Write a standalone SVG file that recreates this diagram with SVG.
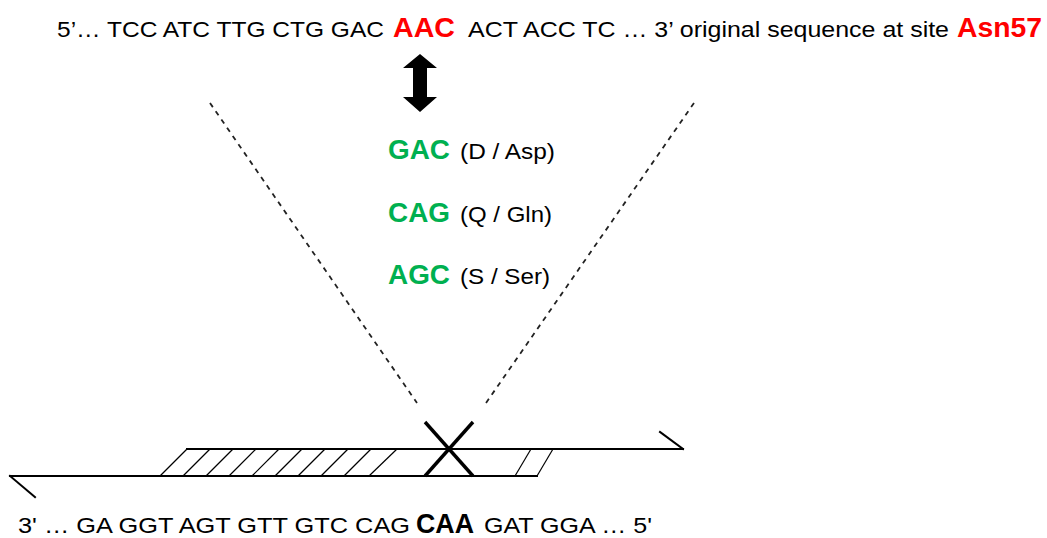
<svg xmlns="http://www.w3.org/2000/svg" width="1047" height="538" viewBox="0 0 1047 538">
  <style>
    .t{font-family:"Liberation Sans",Arial,sans-serif;font-size:22px;fill:#000}
    .b{font-family:"Liberation Sans",Arial,sans-serif;font-size:28px;font-weight:bold}
    .red{fill:#ff0000}
    .grn{fill:#00b050}
    .blk{fill:#000}
    .strand{stroke:#000;stroke-width:2;fill:none;stroke-linecap:square}
    .hatch{stroke:#000;stroke-width:1.2}
    .cross{stroke:#000;stroke-width:3.4}
    .dash{stroke:#222;stroke-width:1.8;stroke-dasharray:5 5;fill:none}
  </style>
  <rect width="1047" height="538" fill="#fff"/>

  <!-- coding strand with the codon to be replaced -->
  <g id="top-sequence">
    <text class="t" x="57" y="37" textLength="327" lengthAdjust="spacingAndGlyphs">5’… TCC ATC TTG CTG GAC</text>
    <text class="b red" x="393" y="37" textLength="62" lengthAdjust="spacingAndGlyphs">AAC</text>
    <text class="t" x="468" y="37" textLength="481" lengthAdjust="spacingAndGlyphs">ACT ACC TC … 3’ original sequence at site</text>
    <text class="b red" x="957" y="37" textLength="85" lengthAdjust="spacingAndGlyphs">Asn57</text>
  </g>

  <!-- exchange arrow -->
  <g id="exchange-arrow">
    <path d="M420,54 L437,68 L427,68 L427,97 L437,97 L420,112 L403,97 L413,97 L413,68 L403,68 Z" fill="#000"/>
  </g>

  <!-- replacement codons -->
  <g id="codon-gac">
    <text class="b grn" x="388" y="159" textLength="62" lengthAdjust="spacingAndGlyphs">GAC</text>
    <text class="t" x="460" y="159" textLength="95" lengthAdjust="spacingAndGlyphs">(D / Asp)</text>
  </g>
  <g id="codon-cag">
    <text class="b grn" x="388" y="222" textLength="62" lengthAdjust="spacingAndGlyphs">CAG</text>
    <text class="t" x="460" y="222" textLength="92" lengthAdjust="spacingAndGlyphs">(Q / Gln)</text>
  </g>
  <g id="codon-agc">
    <text class="b grn" x="388" y="284" textLength="62" lengthAdjust="spacingAndGlyphs">AGC</text>
    <text class="t" x="460" y="284" textLength="90" lengthAdjust="spacingAndGlyphs">(S / Ser)</text>
  </g>

  <!-- dashed guides down to the mutation site -->
  <g id="connectors">
    <line class="dash" x1="210" y1="103" x2="417" y2="403"/>
    <line class="dash" x1="694" y1="103" x2="486" y2="403"/>
  </g>

  <!-- template strand, primer with hatching and the mismatch cross -->
  <g id="primer">
    <line class="strand" x1="10" y1="476" x2="537" y2="476"/>
    <line class="strand" x1="10" y1="476" x2="35" y2="497"/>
    <line class="strand" x1="187" y1="449" x2="683" y2="449"/>
    <line class="strand" x1="683" y1="449" x2="660" y2="432"/>
    <g class="hatch">
      <line x1="160" y1="476" x2="187" y2="449"/>
      <line x1="183" y1="476" x2="210" y2="449"/>
      <line x1="206" y1="476" x2="233" y2="449"/>
      <line x1="229" y1="476" x2="256" y2="449"/>
      <line x1="252" y1="476" x2="279" y2="449"/>
      <line x1="275" y1="476" x2="302" y2="449"/>
      <line x1="298" y1="476" x2="325" y2="449"/>
      <line x1="321" y1="476" x2="348" y2="449"/>
      <line x1="344" y1="476" x2="371" y2="449"/>
      <line x1="369" y1="476" x2="397" y2="449"/>
      <line x1="515" y1="476" x2="531" y2="449"/>
      <line x1="537" y1="476" x2="553" y2="449"/>
    </g>
    <line class="cross" x1="425" y1="422" x2="473" y2="476"/>
    <line class="cross" x1="473" y1="422" x2="425" y2="476"/>
  </g>

  <!-- complementary strand -->
  <g id="bottom-sequence">
    <text class="t" x="18" y="533" textLength="392" lengthAdjust="spacingAndGlyphs">3' … GA GGT AGT GTT GTC CAG</text>
    <text class="b blk" x="416" y="533" textLength="58" lengthAdjust="spacingAndGlyphs">CAA</text>
    <text class="t" x="484" y="533" textLength="168" lengthAdjust="spacingAndGlyphs">GAT GGA … 5'</text>
  </g>
</svg>
